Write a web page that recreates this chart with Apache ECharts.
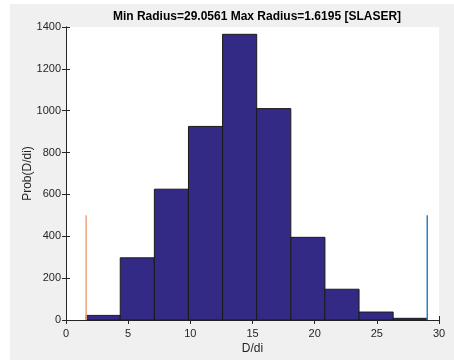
<!DOCTYPE html>
<html>
<head>
<meta charset="utf-8">
<script src="https://cdn.jsdelivr.net/npm/echarts@6/dist/echarts.min.js"></script>
<style>
  html, body { margin: 0; padding: 0; background: #fff; }
  #chart { width: 454px; height: 360px; }
</style>
</head>
<body>
<div id="chart"></div>
<script>
// histogram bins (D/di) and counts
const binEdges = [1.6195, 4.3632, 7.1069, 9.8506, 12.5942, 15.3378, 18.0815, 20.8252, 23.5689, 26.3125, 29.0561];
const counts = [22, 297, 625, 925, 1365, 1010, 395, 147, 38, 8];
const minLine = [[1.6195, 0], [1.6195, 500]];
const maxLine = [[29.0561, 0], [29.0561, 500]];
const xTicks = [0, 5, 10, 15, 20, 25, 30];
const yTicks = [0, 200, 400, 600, 800, 1000, 1200, 1400];

const barData = counts.map((c, i) => [binEdges[i], binEdges[i + 1], c]);

const font = 'Liberation Sans, Arial, sans-serif';
const tickColor = '#262626';

const chart = echarts.init(document.getElementById('chart'));

const axisCommon = {
  axisLine: { show: true, lineStyle: { color: '#262626', width: 1 } },
  axisTick: { show: true, inside: true, length: 4, lineStyle: { color: '#262626' } },
  splitLine: { show: false }
};

chart.setOption({
  animation: false,
  backgroundColor: '#fff',
  graphic: [{
    type: 'rect',
    z: -10,
    silent: true,
    shape: { x: 10, y: 4, width: 444, height: 356 },
    style: { fill: '#f0f0f0' }
  }],
  title: {
    text: 'Min Radius=29.0561 Max Radius=1.6195 [SLASER]',
    left: 252,
    textAlign: 'center',
    top: 6,
    textStyle: { fontFamily: font, fontSize: 12, fontWeight: 'bold', color: '#000' }
  },
  grid: {
    left: 66, right: 15, top: 27, bottom: 38,
    show: true, backgroundColor: '#fff', borderWidth: 0
  },
  xAxis: [
    Object.assign({
      type: 'value', min: 0, max: 30, interval: 5,
      name: 'D/di', nameLocation: 'middle', nameGap: 23, nameMoveOverlap: false,
      nameTextStyle: { fontFamily: font, fontSize: 12, color: tickColor },
      axisLabel: {
        fontFamily: font, fontSize: 11, color: tickColor, margin: 8,
        formatter: v => (xTicks.indexOf(v) >= 0 ? String(v) : '')
      }
    }, axisCommon),
    Object.assign({
      type: 'value', min: 0, max: 30, interval: 5, position: 'top',
      axisLabel: { show: false }
    }, axisCommon)
  ],
  yAxis: [
    Object.assign({
      type: 'value', min: 0, max: 1400, interval: 200,
      name: 'Prob(D/di)', nameLocation: 'middle', nameGap: 32, nameMoveOverlap: false,
      nameTextStyle: { fontFamily: font, fontSize: 12, color: tickColor },
      axisLabel: {
        fontFamily: font, fontSize: 11, color: tickColor, margin: 5,
        formatter: v => (yTicks.indexOf(v) >= 0 ? String(v) : '')
      }
    }, axisCommon),
    Object.assign({
      type: 'value', min: 0, max: 1400, interval: 200, position: 'right',
      axisLabel: { show: false }
    }, axisCommon)
  ],
  series: [
    {
      type: 'custom',
      data: barData,
      renderItem: function (params, api) {
        const p0 = api.coord([api.value(0), api.value(2)]);
        const p1 = api.coord([api.value(1), 0]);
        return {
          type: 'rect',
          shape: { x: p0[0], y: p0[1], width: p1[0] - p0[0], height: p1[1] - p0[1] },
          style: { fill: '#332a86', stroke: '#1a1a1a', lineWidth: 1 }
        };
      },
      encode: { x: [0, 1], y: 2 }
    },
    {
      type: 'line',
      data: minLine,
      symbol: 'none',
      lineStyle: { color: '#f3a27c', width: 1.5 },
      z: 5
    },
    {
      type: 'line',
      data: maxLine,
      symbol: 'none',
      lineStyle: { color: '#2a7fc4', width: 1.5 },
      z: 5
    }
  ]
});
</script>
</body>
</html>
